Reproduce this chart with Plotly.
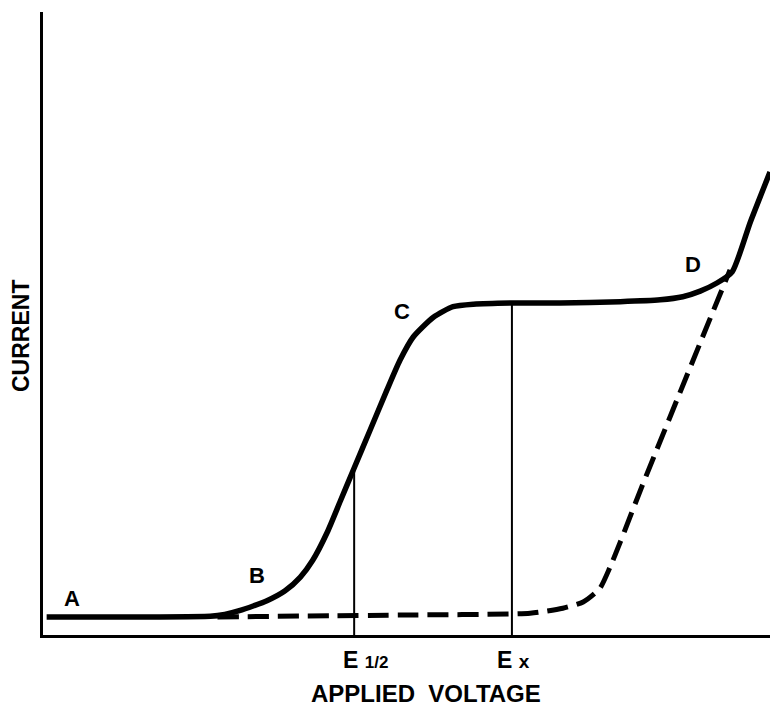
import plotly.graph_objects as go

# ---- data (arbitrary voltage / current units) ----
voltage_solid = [0.05, 1.47, 2.30, 2.50, 2.70, 2.90, 3.08, 3.33, 3.54, 3.71, 3.91, 4.09, 4.28,
                 4.50, 4.73, 4.91, 5.09, 5.37, 5.64, 5.92, 6.45, 7.11, 7.94, 8.49, 8.80,
                 9.04, 9.27, 9.48, 9.73, 10.0]
current_solid = [0.29, 0.29, 0.30, 0.33, 0.39, 0.47, 0.55, 0.71, 0.93, 1.20, 1.65, 2.15, 2.68,
                 3.29, 3.93, 4.41, 4.78, 5.10, 5.27, 5.31, 5.33, 5.33, 5.35, 5.38, 5.43,
                 5.52, 5.65, 5.83, 6.63, 7.43]

voltage_dashed = [2.40, 4.91, 6.70, 7.15, 7.43, 7.66, 7.80, 7.94, 8.24, 9.04, 9.45]
current_dashed = [0.29, 0.32, 0.35, 0.43, 0.53, 0.75, 1.09, 1.49, 2.39, 4.69, 5.86]

E_half, I_half = 4.28, 2.68
E_x, I_limit = 6.45, 5.33

point_labels = ["A", "B", "C", "D"]
point_x = [0.40, 2.94, 4.94, 8.94]
point_y = [0.59, 0.96, 5.19, 5.94]

x_range = [0, 10]
y_range = [0, 10]

fig = go.Figure()

fig.add_trace(go.Scatter(x=voltage_dashed, y=current_dashed, mode="lines",
                         line=dict(color="black", width=5, dash="21px,9px", shape="spline", smoothing=0.6),
                         hoverinfo="skip", showlegend=False))
fig.add_trace(go.Scatter(x=voltage_solid, y=current_solid, mode="lines",
                         line=dict(color="black", width=5.5, shape="spline", smoothing=0.6),
                         hoverinfo="skip", showlegend=False))
fig.add_trace(go.Scatter(x=[E_half, E_half], y=[0, I_half], mode="lines",
                         line=dict(color="black", width=2), hoverinfo="skip", showlegend=False))
fig.add_trace(go.Scatter(x=[E_x, E_x], y=[0, I_limit], mode="lines",
                         line=dict(color="black", width=2), hoverinfo="skip", showlegend=False))

font_family = "Liberation Sans, Arial, sans-serif"
for lab, xx, yy in zip(point_labels, point_x, point_y):
    fig.add_annotation(x=xx, y=yy, text=f"<b>{lab}</b>", showarrow=False,
                       font=dict(family=font_family, size=22, color="black"))

def px_to_paper_x(p):
    return (p - 43) / 727

def px_to_paper_y(p):
    return (635 - p) / 623

fig.add_annotation(xref="paper", yref="paper", x=px_to_paper_x(341), y=px_to_paper_y(660),
                   xanchor="left", yanchor="middle", showarrow=False,
                   text="<b>E <span style='font-size:17px'>1/2</span></b>",
                   font=dict(family=font_family, size=23, color="black"))
fig.add_annotation(xref="paper", yref="paper", x=px_to_paper_x(495), y=px_to_paper_y(660),
                   xanchor="left", yanchor="middle", showarrow=False,
                   text="<b>E <span style='font-size:19px'>x</span></b>",
                   font=dict(family=font_family, size=23, color="black"))
fig.add_annotation(xref="paper", yref="paper", x=px_to_paper_x(426), y=px_to_paper_y(693),
                   xanchor="center", yanchor="middle", showarrow=False,
                   text="<b>APPLIED  VOLTAGE</b>",
                   font=dict(family=font_family, size=24, color="black"))
fig.add_annotation(xref="paper", yref="paper", x=px_to_paper_x(21), y=px_to_paper_y(336),
                   xanchor="center", yanchor="middle", showarrow=False, textangle=-90,
                   text="<b>CURRENT</b>",
                   font=dict(family=font_family, size=23, color="black"))

fig.update_layout(
    width=770, height=709,
    margin=dict(l=43, r=0, t=12, b=74),
    paper_bgcolor="white", plot_bgcolor="white",
    xaxis=dict(range=x_range, showline=True, linecolor="black", linewidth=3,
               showgrid=False, zeroline=False, showticklabels=False, ticks=""),
    yaxis=dict(range=y_range, showline=True, linecolor="black", linewidth=3,
               showgrid=False, zeroline=False, showticklabels=False, ticks=""),
)

fig.write_html("out.html")
